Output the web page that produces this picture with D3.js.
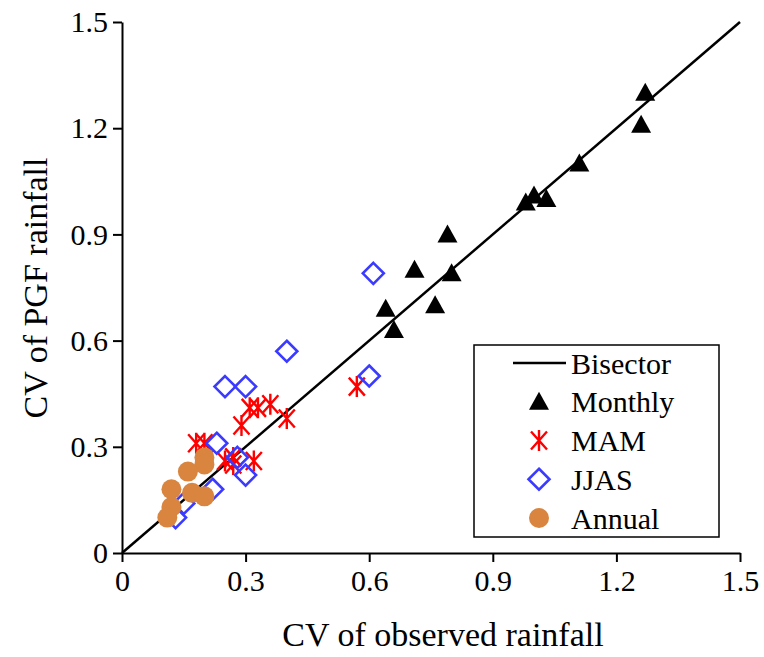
<!DOCTYPE html>
<html><head><meta charset="utf-8">
<script src="https://cdn.jsdelivr.net/npm/d3@7"></script>
<style>body{margin:0;background:#fff}svg{display:block}
svg text{font-family:"Liberation Serif","DejaVu Serif",serif !important;}</style>
</head><body>
<svg id="c" width="764" height="657"></svg>
<script>
const ticks = [0, 0.3, 0.6, 0.9, 1.2, 1.5];
const tickLabels = ["0", "0.3", "0.6", "0.9", "1.2", "1.5"];
const bisector = [[0, 0], [1.5, 1.5]];
const monthlyX = [0.64, 0.66, 0.71, 0.76, 0.79, 0.80, 0.98, 1.00, 1.03, 1.11, 1.26, 1.27];
const monthlyY = [0.69, 0.63, 0.80, 0.70, 0.90, 0.79, 0.99, 1.01, 1.00, 1.10, 1.21, 1.30];
const mamX = [0.18, 0.20, 0.29, 0.31, 0.33, 0.36, 0.40, 0.25, 0.27, 0.27, 0.32, 0.57];
const mamY = [0.31, 0.31, 0.36, 0.41, 0.41, 0.42, 0.38, 0.26, 0.27, 0.25, 0.26, 0.47];
const jjasX = [0.13, 0.15, 0.22, 0.23, 0.28, 0.30, 0.25, 0.30, 0.40, 0.60, 0.61];
const jjasY = [0.10, 0.14, 0.18, 0.31, 0.27, 0.22, 0.47, 0.47, 0.57, 0.50, 0.79];
const annualX = [0.20, 0.20, 0.16, 0.12, 0.17, 0.20, 0.12, 0.11];
const annualY = [0.27, 0.25, 0.23, 0.18, 0.17, 0.16, 0.13, 0.10];
const legendLabels = ["Bisector", "Monthly", "MAM", "JJAS", "Annual"];

const svg = d3.select("#c");
const font = "Liberation Serif";
const x = d3.scaleLinear().domain([0, 1.5]).range([122, 740]);
const y = d3.scaleLinear().domain([0, 1.5]).range([553, 22]);

const xAxis = d3.axisBottom(x).tickValues(ticks).tickFormat((d, i) => tickLabels[i]).tickSize(9).tickSizeOuter(0).tickPadding(8);
const yAxis = d3.axisLeft(y).tickValues(ticks).tickFormat((d, i) => tickLabels[i]).tickSize(9).tickSizeOuter(0).tickPadding(5);

const gx = svg.append("g").attr("transform", "translate(0,553)").call(xAxis);
const gy = svg.append("g").attr("transform", "translate(122,0)").call(yAxis);
[gx, gy].forEach(g => {
  g.attr("font-family", font).attr("font-size", 30);
  g.selectAll("path,line").attr("stroke", "#000").attr("stroke-width", 2);
  g.selectAll("text").attr("font-family", font).attr("font-size", 30).attr("fill", "#000");
});

// bisector
svg.append("path").datum(bisector)
  .attr("d", d3.line().x(d => x(d[0])).y(d => y(d[1])))
  .attr("stroke", "#000").attr("stroke-width", 2.5).attr("fill", "none");

const triPath = "M0,-10L10,8L-10,8Z";
const diaPath = "M0,-10.5L10.5,0L0,10.5L-10.5,0Z";
const starPath = "M-8,-9L8,9M-8,9L8,-9M0,-10.5L0,10.5";

function drawMarkers(xs, ys, fn) {
  const g = svg.append("g");
  xs.forEach((v, i) => fn(g, x(v), y(ys[i])));
}
const triFn = (g, px, py) => g.append("path").attr("d", triPath).attr("transform", `translate(${px},${py})`).attr("fill", "#000");
const starFn = (g, px, py) => g.append("path").attr("d", starPath).attr("transform", `translate(${px},${py})`).attr("stroke", "#ff0000").attr("stroke-width", 2.4).attr("fill", "none");
const diaFn = (g, px, py) => g.append("path").attr("d", diaPath).attr("transform", `translate(${px},${py})`).attr("stroke", "#3b3bff").attr("stroke-width", 2.6).attr("fill", "none");
const circFn = (g, px, py) => g.append("circle").attr("cx", px).attr("cy", py).attr("r", 10).attr("fill", "#d9853f");

drawMarkers(monthlyX, monthlyY, triFn);
drawMarkers(mamX, mamY, starFn);
drawMarkers(jjasX, jjasY, diaFn);
drawMarkers(annualX, annualY, circFn);

// axis titles
svg.append("text").attr("x", 443).attr("y", 646).attr("text-anchor", "middle")
  .attr("font-family", font).attr("font-size", 34).text("CV of observed rainfall");
svg.append("text").attr("transform", "translate(47,288) rotate(-90)").attr("text-anchor", "middle")
  .attr("font-family", font).attr("font-size", 34).text("CV of PGF rainfall");

// legend
const lg = svg.append("g");
lg.append("rect").attr("x", 474).attr("y", 345).attr("width", 245).attr("height", 192)
  .attr("fill", "#fff").attr("stroke", "#000").attr("stroke-width", 1.5);
const rowY = d3.scalePoint().domain(legendLabels).range([363, 518]);
legendLabels.forEach((lab, i) => {
  const cy = rowY(lab);
  lg.append("text").attr("x", 571).attr("y", cy).attr("dy", "0.35em")
    .attr("font-family", font).attr("font-size", 30).text(lab);
});
lg.append("line").attr("x1", 513).attr("x2", 566).attr("y1", rowY("Bisector")).attr("y2", rowY("Bisector"))
  .attr("stroke", "#000").attr("stroke-width", 2.5);
triFn(lg, 539, rowY("Monthly"));
starFn(lg, 539, rowY("MAM"));
diaFn(lg, 539, rowY("JJAS"));
circFn(lg, 539, rowY("Annual"));
</script>
</body></html>
